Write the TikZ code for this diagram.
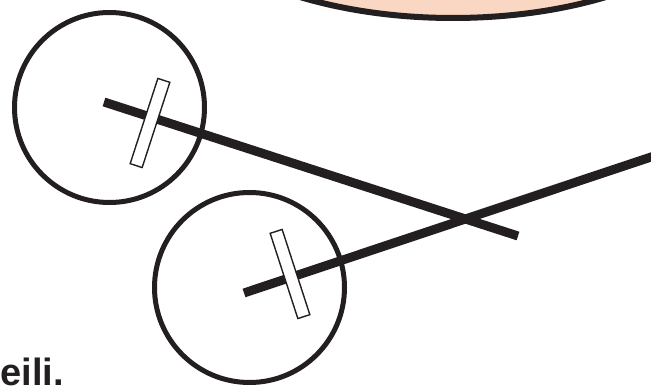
\documentclass[tikz,border=0pt]{standalone}
\usepackage{fontspec}
\setmainfont{Liberation Sans}
\usetikzlibrary{calc, shapes.geometric}
\definecolor{Ink}{HTML}{231F20}
\definecolor{Peach}{RGB}{250, 215, 195}

\begin{document}
\begin{tikzpicture}[x=1pt, y=-1pt,
    lens/.style={circle, draw=Ink, line width=5pt, minimum size=190pt, inner sep=0pt},
    rod/.style={draw=Ink, line width=9pt},
    slit/.style={rectangle, draw=Ink, fill=white, line width=1.4pt, minimum width=12.6pt, minimum height=89.6pt, inner sep=0pt},
    face/.style={draw=Ink, fill=Peach, line width=6pt}]

    \useasboundingbox (0,0) rectangle (651,387);

    % top shape
    \draw[face] (453,-129) ellipse [x radius=297pt, y radius=147pt];

    % lenses
    \node[lens] (lensA) at (109.5,107.5) {};
    \node[lens] (lensB) at (249.5,287.5) {};

    % rods
    \coordinate (rodAstart) at (104,102);
    \coordinate (rodAend) at (518,236);
    \coordinate (rodBstart) at (244,293);
    \coordinate (rodBend) at (675,149);
    \draw[rod] (rodAstart) -- (rodAend);
    \draw[rod] (rodBstart) -- (rodBend);

    % slits
    \node[slit, rotate=-18] (slitA) at (150,123) {};
    \node[slit, rotate=18] (slitB) at (290,274) {};

    \node[anchor=base west, inner sep=0pt, text depth=0pt, font=\bfseries\fontsize{38}{42}\selectfont, text=Ink] (caption) at (0.5,385.5) {eili.};
\end{tikzpicture}
\end{document}
